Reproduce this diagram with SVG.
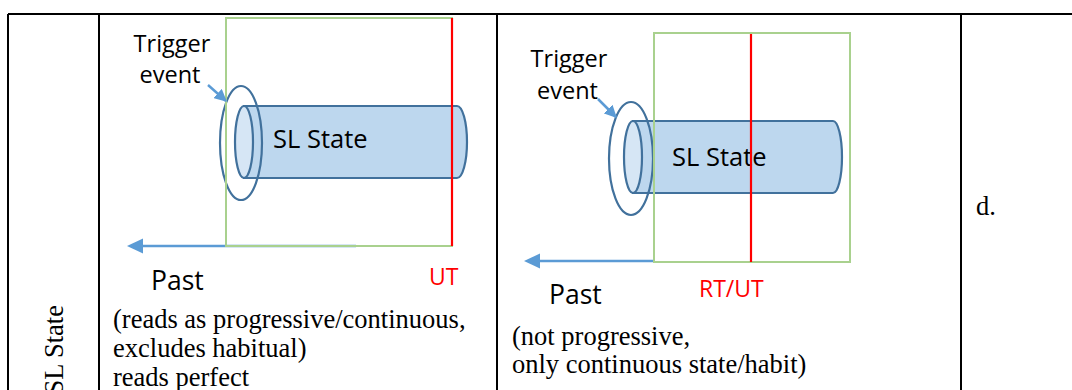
<svg xmlns="http://www.w3.org/2000/svg" width="1072" height="390" viewBox="0 0 1072 390">
<style>
.grid{stroke:#000;stroke-width:2;fill:none}
.sans{font-family:"Open Sans","Liberation Sans",sans-serif;fill:#000}
.serif{font-family:"Liberation Serif","Times New Roman",serif;font-size:26.5px;fill:#000}
.body{fill:#BDD7EE;stroke:#41719C;stroke-width:2.2}
.cap{fill:#D6E6F5;stroke:#41719C;stroke-width:2.2}
.ring{fill:none;stroke:#41719C;stroke-width:2.2}
.frame{fill:none;stroke:#A9D18E;stroke-width:2}
.now{stroke:#FF0000;stroke-width:2.2}
.time{stroke:#5B9BD5;stroke-width:2.5;fill:none}
.red{fill:#FF0000}
</style>
<defs>
<marker id="head" viewBox="0 0 10 10" refX="9" refY="5" markerWidth="5" markerHeight="5" orient="auto" markerUnits="strokeWidth">
<path d="M0,0 L10,5 L0,10 Z" fill="#5B9BD5"/>
</marker>
</defs>
<g id="table">
<line class="grid" x1="8" y1="14" x2="1072" y2="14"/>
<line class="grid" x1="8" y1="14" x2="8" y2="390"/>
<line class="grid" x1="99" y1="14" x2="99" y2="390"/>
<line class="grid" x1="497" y1="14" x2="497" y2="390"/>
<line class="grid" x1="961" y1="14" x2="961" y2="390"/>
<text class="serif" transform="translate(63,305) rotate(-90)" text-anchor="end">SL State</text>
<text class="serif" x="976" y="215">d.</text>
</g>
<g id="left-panel">
<line class="time" x1="356" y1="246" x2="140" y2="246"/>
<path d="M127,246 L143,238.5 L143,253.5 Z" fill="#5B9BD5"/>
<g id="left-cylinder">
<path class="body" d="M244,106 L457,106 A10,36 0 0 1 457,178 L244,178 Z"/>
<ellipse class="cap" cx="244" cy="142" rx="9" ry="36"/>
<text class="sans" x="273" y="148" font-size="25.5">SL State</text>
</g>
<ellipse id="left-trigger-ring" class="ring" cx="241" cy="143" rx="21" ry="57"/>
<rect class="frame" x="226" y="18" width="226" height="228"/>
<line class="now" x1="452" y1="18" x2="452" y2="246"/>
<g id="left-trigger-label">
<text class="sans" x="172" y="52" font-size="23.5" text-anchor="middle">Trigger</text>
<text class="sans" x="170" y="83" font-size="23.5" text-anchor="middle">event</text>
</g>
<line class="time" x1="208" y1="85" x2="226" y2="101" marker-end="url(#head)"/>
<text class="sans red" x="429" y="285" font-size="23">UT</text>
<text class="sans" x="151" y="290" font-size="26.5">Past</text>
<text class="serif" x="113" y="328">(reads as progressive/continuous,</text>
<text class="serif" x="113" y="357">excludes habitual)</text>
<text class="serif" x="113" y="386">reads perfect</text>
</g>
<g id="right-panel">
<line class="time" x1="654" y1="261" x2="538" y2="261"/>
<path d="M524,261 L540,253.5 L540,268.5 Z" fill="#5B9BD5"/>
<g id="right-cylinder">
<path class="body" d="M633,121 L833,121 A9,36 0 0 1 833,193 L633,193 Z"/>
<ellipse class="cap" cx="633" cy="157" rx="9" ry="36"/>
<text class="sans" x="672" y="166" font-size="25.5">SL State</text>
</g>
<ellipse id="right-trigger-ring" class="ring" cx="631" cy="158.5" rx="22" ry="56.5"/>
<rect class="frame" x="654" y="33" width="196" height="229"/>
<line class="now" x1="751" y1="34" x2="751" y2="262"/>
<g id="right-trigger-label">
<text class="sans" x="569" y="67" font-size="23.5" text-anchor="middle">Trigger</text>
<text class="sans" x="567.5" y="99" font-size="23.5" text-anchor="middle">event</text>
</g>
<line class="time" x1="598" y1="99" x2="616" y2="117" marker-end="url(#head)"/>
<text class="sans red" x="699" y="297" font-size="23">RT/UT</text>
<text class="sans" x="549" y="304" font-size="26.5">Past</text>
<text class="serif" x="512" y="345">(not progressive,</text>
<text class="serif" x="512" y="373">only continuous state/habit)</text>
</g>
</svg>
